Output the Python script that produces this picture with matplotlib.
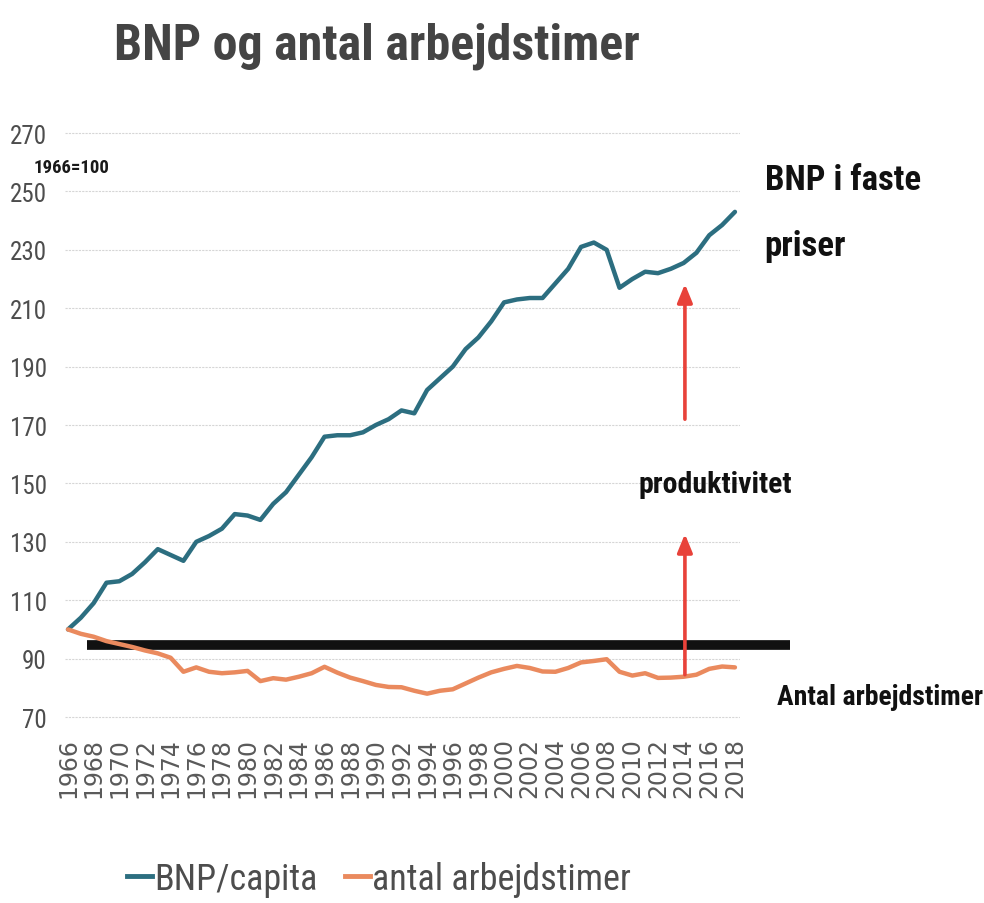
import matplotlib

matplotlib.use("Agg")
import matplotlib.pyplot as plt
from matplotlib import font_manager

years = list(range(1966, 2019))
bnp_capita = [
    100, 104, 109, 116, 116.5, 119, 123, 127.5, 125.5, 123.5,
    130, 132, 134.5, 139.5, 139, 137.5, 143, 147, 153, 159,
    166, 166.5, 166.5, 167.5, 170, 172, 175, 174, 182, 186,
    190, 196, 200, 205.5, 212, 213, 213.5, 213.5, 218.5, 223.5,
    231, 232.5, 230, 217, 220, 222.5, 222, 223.5, 225.5, 229,
    235, 238.5, 243,
]
arbejdstimer = [
    100, 98.5, 97.5, 96, 95, 94, 92.8, 91.8, 90.3, 85.5,
    87, 85.5, 85, 85.3, 85.8, 82.3, 83.3, 82.8, 83.8, 85,
    87.2, 85.2, 83.5, 82.3, 81, 80.3, 80.2, 79, 78, 79,
    79.5, 81.5, 83.5, 85.3, 86.5, 87.5, 86.8, 85.6, 85.5, 86.8,
    88.7, 89.2, 89.8, 85.5, 84.2, 85, 83.4, 83.5, 83.8, 84.5,
    86.5, 87.3, 87,
]
yticks = [70, 90, 110, 130, 150, 170, 190, 210, 230, 250, 270]
xticks = list(range(1966, 2019, 2))

# reference level and productivity arrows (year, value)
ref_level = 94.7
ref_span = (1967.5, 2022.3)
arrow_year = 2014.1
arrow_low = (84.5, 132.7)
arrow_high = (172.0, 218.3)

blue = "#2c6e80"
orange = "#ea8a5e"
red = "#e8423a"
grey = "#4d4d4d"

installed = {f.name for f in font_manager.fontManager.ttflist}
narrow = next((f for f in ["Roboto Condensed", "Liberation Sans Narrow", "Open Sans Condensed"] if f in installed), "DejaVu Sans")

fig = plt.figure(figsize=(9.84, 9.04), dpi=100)
ax = fig.add_axes([0.0661, 0.1928, 0.686, 0.6654])

ax.plot(years, bnp_capita, color=blue, lw=3.2, solid_capstyle="round", zorder=3)
ax.plot(years, arbejdstimer, color=orange, lw=3.2, solid_capstyle="round", zorder=3)
ax.plot(ref_span, [ref_level, ref_level], color="#111111", lw=7, solid_capstyle="butt",
        clip_on=False, zorder=2)

for lo, hi in (arrow_low, arrow_high):
    ax.annotate("", xy=(arrow_year, hi), xytext=(arrow_year, lo),
                arrowprops=dict(arrowstyle="-|>,head_length=1.1,head_width=0.45",
                                color=red, lw=2.6, shrinkA=0, shrinkB=0), zorder=4)

ax.set_xlim(1965.77, 2018.4)
ax.set_ylim(66, 272)
ax.set_yticks(yticks)
ax.set_xticks(xticks)
ax.set_xticklabels([str(y) for y in xticks], rotation=90, fontsize=17, color="#5a5a5a",
                   family="DejaVu Sans")
ax.set_yticklabels([str(v) for v in yticks], fontsize=18, color=grey, family=narrow)
ax.tick_params(axis="both", length=0)
ax.tick_params(axis="y", pad=13)
ax.tick_params(axis="x", pad=6)
ax.grid(axis="y", color="#d6d6d6", lw=0.8, ls=(0, (2, 1)))
ax.set_axisbelow(True)
for s in ax.spines.values():
    s.set_visible(False)

fig.text(0.383, 0.949, "BNP og antal arbejdstimer", ha="center", va="center",
         fontsize=36, fontweight="bold", color="#444444", family=narrow)
fig.text(0.034, 0.814, "1966=100", ha="left", va="center", fontsize=13.5,
         fontweight="bold", color="#1a1a1a", family=narrow)
fig.text(0.777, 0.800, "BNP i faste", ha="left", va="center", fontsize=25,
         fontweight="bold", color="#111111", family=narrow)
fig.text(0.777, 0.727, "priser", ha="left", va="center", fontsize=25,
         fontweight="bold", color="#111111", family=narrow)
fig.text(0.727, 0.463, "produktivitet", ha="center", va="center", fontsize=21.5,
         fontweight="bold", color="#111111", family=narrow)
fig.text(0.790, 0.228, "Antal arbejdstimer", ha="left", va="center", fontsize=20,
         fontweight="bold", color="#111111", family=narrow)

handles = [plt.Line2D([], [], color=blue, lw=3.5), plt.Line2D([], [], color=orange, lw=3.5)]
fig.legend(handles, ["BNP/capita", "antal arbejdstimer"], loc="center",
           bbox_to_anchor=(0.385, 0.027), ncol=2, frameon=False, handlelength=0.7,
           handletextpad=0.05, columnspacing=0.75,
           prop={"family": narrow, "size": 26}, labelcolor=grey)

fig.savefig("out.png", dpi=100, facecolor="white")
